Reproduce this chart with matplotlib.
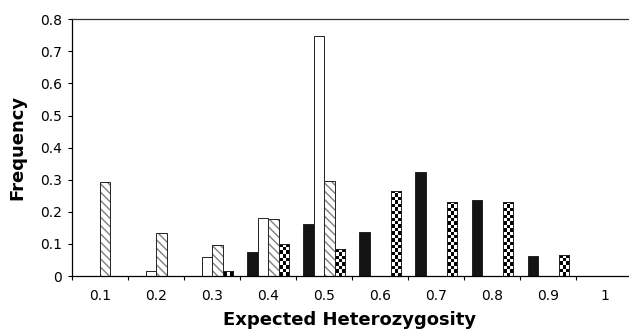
import numpy as np
import matplotlib.pyplot as plt

# expected heterozygosity classes and four frequency series
classes = ["0.1", "0.2", "0.3", "0.4", "0.5", "0.6", "0.7", "0.8", "0.9", "1"]
solid = [0, 0, 0, 0.076, 0.161, 0.137, 0.323, 0.238, 0.061, 0]
white = [0, 0.015, 0.058, 0.180, 0.749, 0, 0, 0, 0, 0]
striped = [0.292, 0.133, 0.097, 0.177, 0.295, 0, 0, 0, 0, 0]
checked = [0, 0, 0.015, 0.100, 0.083, 0.265, 0.232, 0.232, 0.066, 0]

plt.rcParams["hatch.linewidth"] = 1.0

fig = plt.figure(figsize=(6.29, 3.34), dpi=100)
ax = fig.add_axes([72 / 629, 58 / 334, 560.5 / 629, 256.7 / 334])

x = np.arange(len(classes))
w = 0.186
kw = dict(edgecolor="#222222", linewidth=0.7)
ax.bar(x - 1.5 * w, solid, w, color="#141414", **kw)
ax.bar(x - 0.5 * w, white, w, color="white", **kw)
# grey stripes, then a dark outline on top
ax.bar(x + 0.5 * w, striped, w, color="white", edgecolor="#808080", linewidth=0, hatch="\\\\\\\\")
ax.bar(x + 0.5 * w, striped, w, fill=False, **kw)
cbars = ax.bar(x + 1.5 * w, checked, w, color="white", **kw)

ax.set_xlim(-0.5, 9.5)
ax.set_ylim(0, 0.8)

# checkerboard fill clipped to each bar
px_per_unit = 256.7 / 0.8
for b in cbars:
    h = b.get_height()
    if h <= 0:
        continue
    rows = max(1, int(round(h * px_per_unit / 3.4)))
    cols = 3
    board = (np.indices((rows, cols)).sum(axis=0) % 2).astype(float)
    im = ax.imshow(board, cmap="gray", vmin=0, vmax=1, interpolation="nearest",
                   extent=(b.get_x(), b.get_x() + b.get_width(), 0, h),
                   aspect="auto", zorder=b.get_zorder() + 0.1)
    im.set_clip_path(b)
    edge = plt.Rectangle((b.get_x(), 0), b.get_width(), h, fill=False,
                         edgecolor="#222222", linewidth=0.7, zorder=b.get_zorder() + 0.2)
    ax.add_patch(edge)
ax.set_xlim(-0.5, 9.5)
ax.set_ylim(0, 0.8)

ax.set_yticks(np.arange(0, 0.81, 0.1))
ax.set_yticklabels(["0"] + ["%.1f" % v for v in np.arange(0.1, 0.81, 0.1)])
ax.set_xticks(np.arange(-0.5, 10, 1))
ax.set_xticklabels([])
ax.set_xticks(x, minor=True)
ax.set_xticklabels(classes, minor=True)
ax.tick_params(axis="y", direction="out", length=3, pad=4, labelsize=10, width=0.8)
ax.tick_params(axis="x", which="major", direction="out", length=3, width=0.8)
ax.tick_params(axis="x", which="minor", length=0, pad=9, labelsize=10)

ax.spines["right"].set_visible(False)
ax.spines["top"].set_color("#333333")
for s in ["left", "bottom", "top"]:
    ax.spines[s].set_linewidth(0.9)

ax.set_xlabel("Expected Heterozygosity", fontsize=13, fontweight="bold")
ax.xaxis.set_label_coords((350 - 72) / 560.5, -(311 - 276) / 256.7)
ax.set_ylabel("Frequency", fontsize=13, fontweight="bold")
ax.yaxis.set_label_coords(-(72 - 26) / 560.5, 0.5)

fig.savefig("out.png", dpi=100)
